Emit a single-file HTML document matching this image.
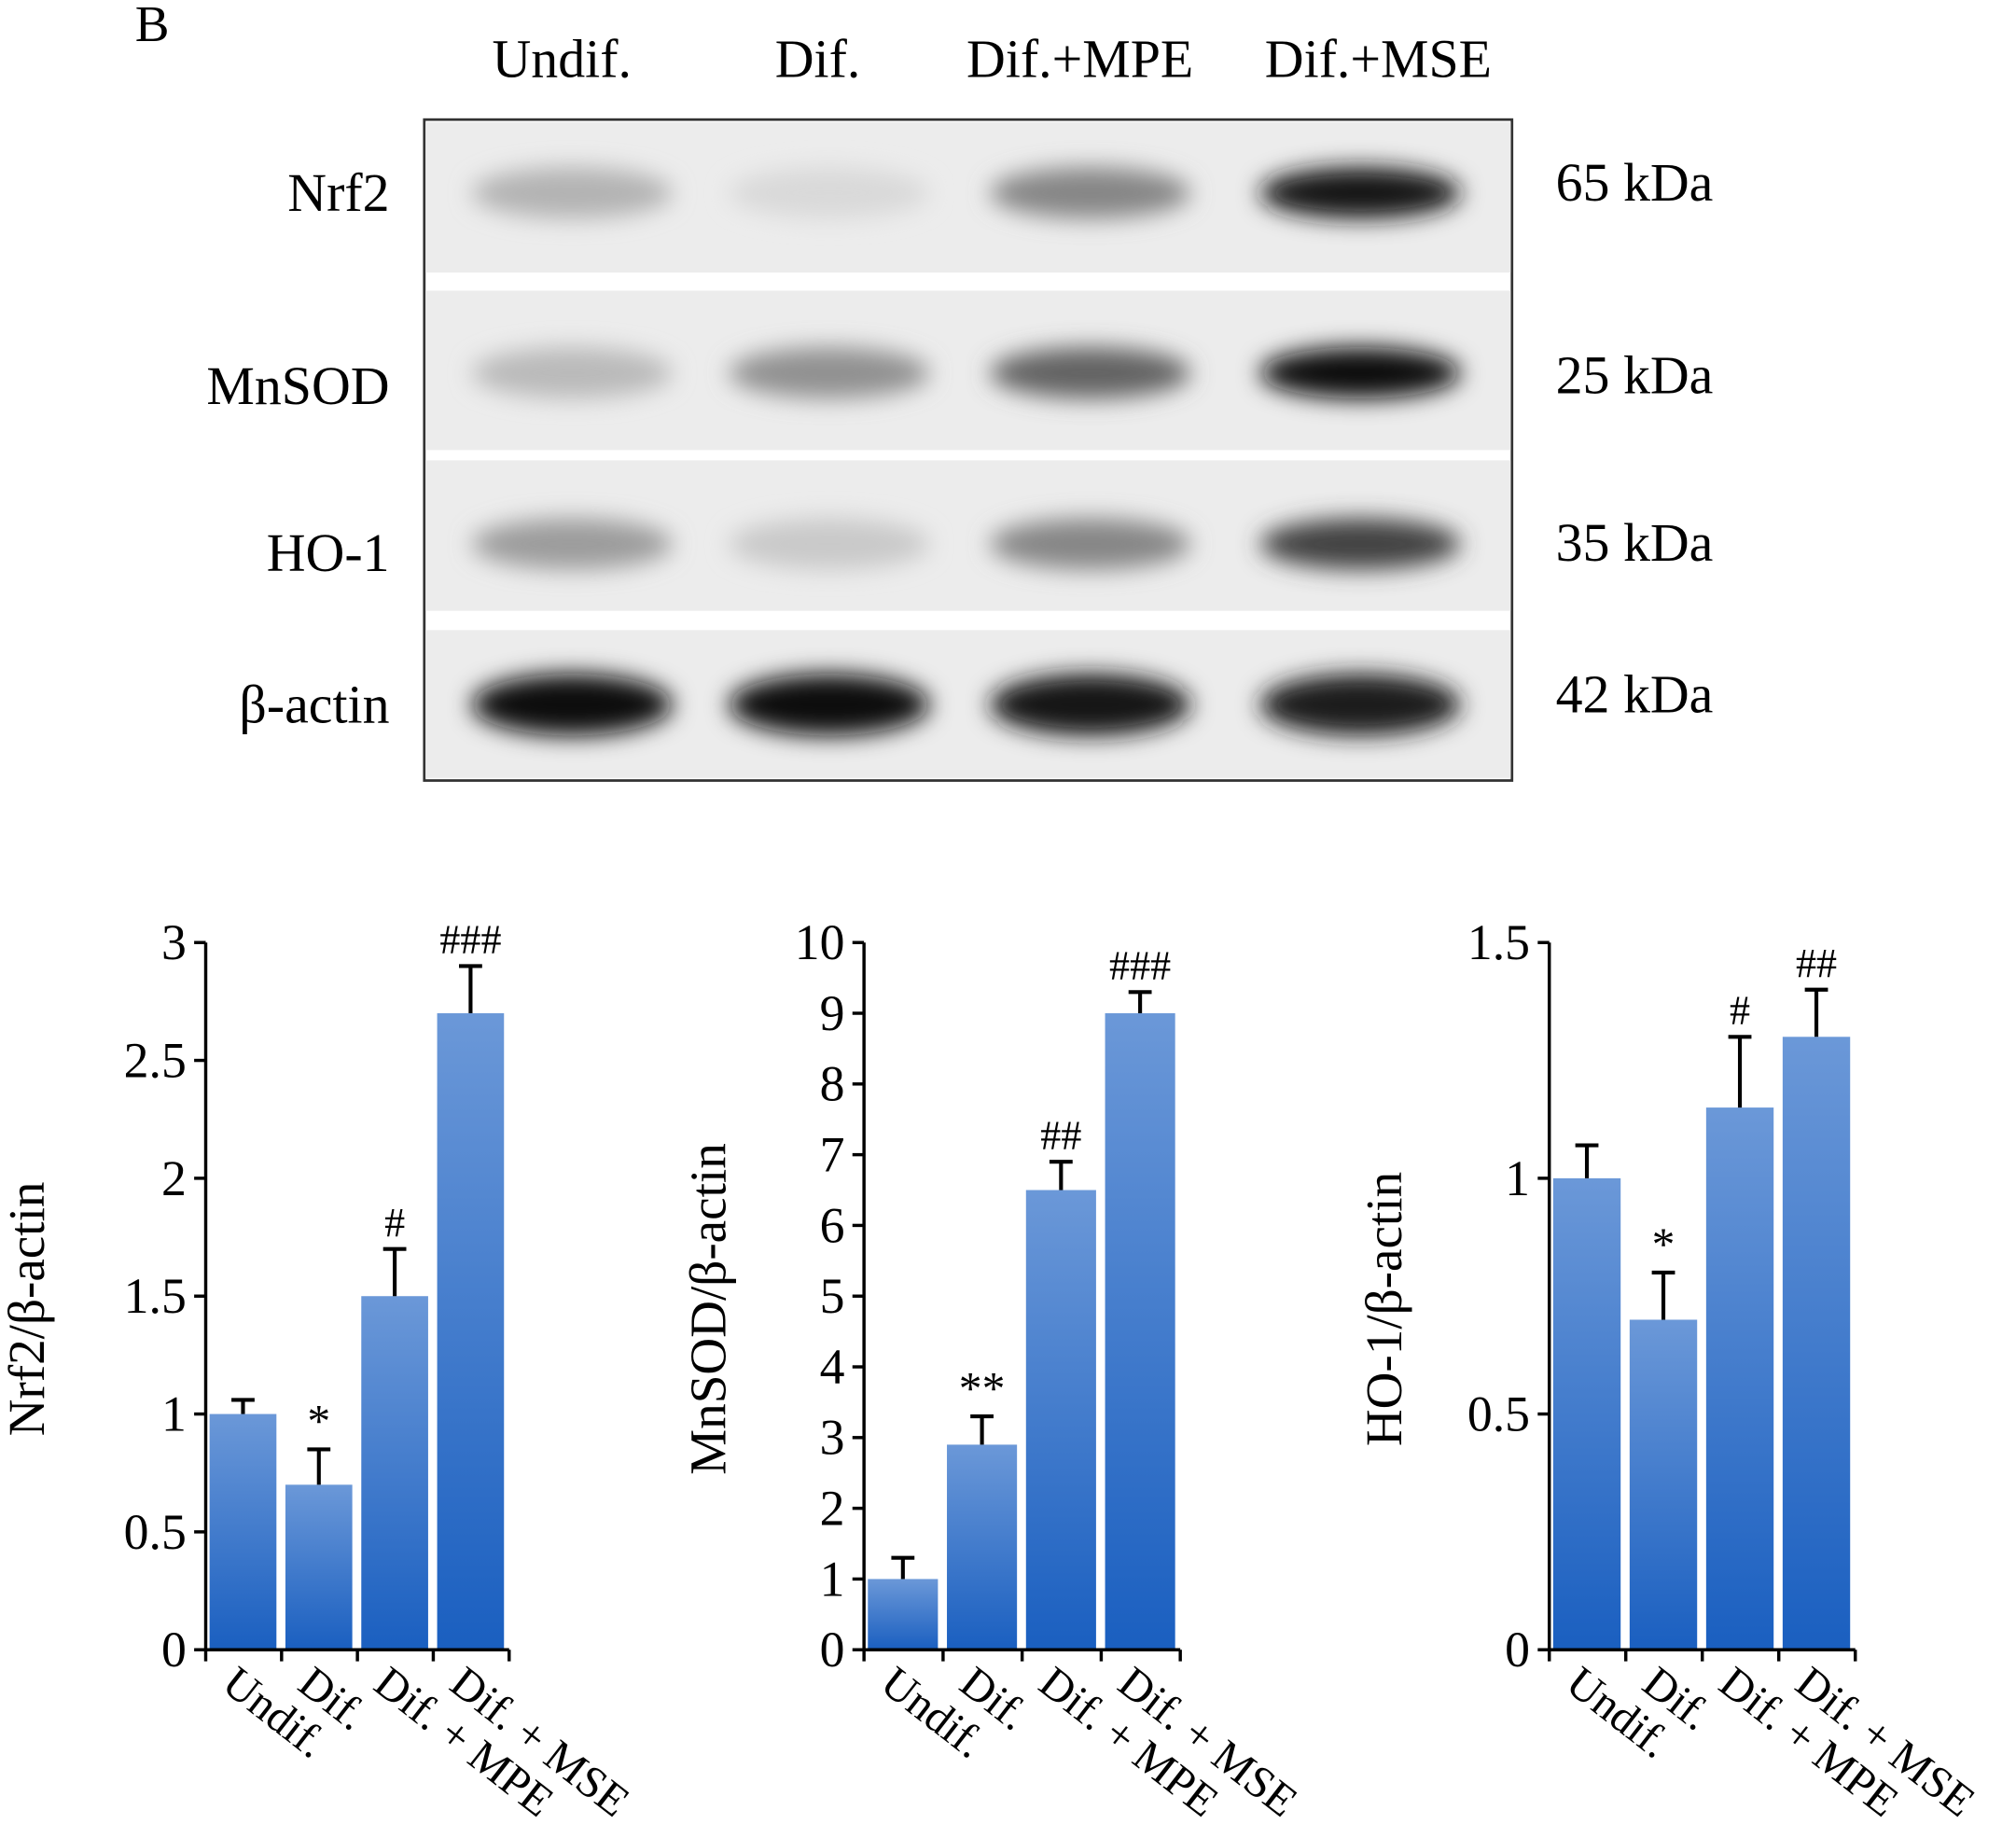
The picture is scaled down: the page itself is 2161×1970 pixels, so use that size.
<!DOCTYPE html>
<html><head><meta charset="utf-8"><style>
html,body{margin:0;padding:0;background:#fff;}
svg{display:block;font-family:"Liberation Serif",serif;}
</style></head><body>
<svg id="fig" width="2161" height="1970" viewBox="0 0 1568 1429.4" xmlns="http://www.w3.org/2000/svg">
<defs>
<linearGradient id="barg" x1="0" y1="0" x2="0" y2="1">
<stop offset="0" stop-color="#6b98d8"/><stop offset="1" stop-color="#1a5fc0"/>
</linearGradient>
<filter id="blur8" x="-50%" y="-100%" width="200%" height="300%"><feGaussianBlur stdDeviation="9"/></filter>
</defs>
<text x="105" y="32" font-size="40">B</text>
<g font-size="42" text-anchor="middle">
<text x="437" y="60">Undif.</text>
<text x="636" y="60">Dif.</text>
<text x="840" y="60">Dif.+MPE</text>
<text x="1072" y="60">Dif.+MSE</text>
</g>
<g id="blot"></g>
<g id="charts"></g>
</svg>
<script>
const NS="http://www.w3.org/2000/svg";
function mk(p,tag,attrs,txt){const e=document.createElementNS(NS,tag);for(const k in attrs)e.setAttribute(k,attrs[k]);if(txt!==undefined)e.textContent=txt;p.appendChild(e);return e;}

// ---- Blot data ----
const blotProteins=["Nrf2","MnSOD","HO-1","β-actin"];
const blotSizes=["65 kDa","25 kDa","35 kDa","42 kDa"];
const bandIntensity=[[0.25,0.08,0.45,0.95],[0.22,0.4,0.6,0.97],[0.35,0.15,0.45,0.75],[0.97,0.97,0.95,0.93]];
const blot=document.getElementById('blot');
const strips=[[95,212],[226,350],[358,475],[490,605]];
const lanes=[445,645,848,1058];
const box=mk(blot,'rect',{x:330,y:93,width:846,height:514,fill:'#fff',stroke:'#333','stroke-width':2});

strips.forEach((s,i)=>{
  const st=mk(blot,'rect',{x:331,y:s[0],width:844,height:s[1]-s[0],fill:'#ececec'});
  
  const cy=[150,290,423,548][i];
  lanes.forEach((lx,j)=>{
    const v=bandIntensity[i][j];const g=Math.round(235-225*v);
    const b=mk(blot,'ellipse',{cx:lx,cy:cy,rx:78,ry:i===3?24:20,fill:`rgb(${g},${g},${g})`,filter:'url(#blur8)'});
    
  });
  const ly=[150,300,430,548][i];
  const l=mk(blot,'text',{x:303,y:ly+14,'font-size':42,'text-anchor':'end'},blotProteins[i]);
  
  const r=mk(blot,'text',{x:1210,y:ly+6,'font-size':42},blotSizes[i]);
  
});

// ---- Chart data ----
const categories=["Undif.","Dif.","Dif. + MPE","Dif. + MSE"];
const nrf2Values=[1,0.7,1.5,2.7];
const nrf2Errors=[0.06,0.15,0.2,0.2];
const nrf2Marks=["","*","#","###"];
const nrf2Ticks=["0","0.5","1","1.5","2","2.5","3"];
const mnsodValues=[1,2.9,6.5,9];
const mnsodErrors=[0.3,0.4,0.4,0.3];
const mnsodMarks=["","**","##","###"];
const mnsodTicks=["0","1","2","3","4","5","6","7","8","9","10"];
const ho1Values=[1,0.7,1.15,1.3];
const ho1Errors=[0.07,0.1,0.15,0.1];
const ho1Marks=["","*","#","##"];
const ho1Ticks=["0","0.5","1","1.5"];

const charts=[
 {name:'nrf2',x0:160,slot:59,max:3,vals:nrf2Values,errs:nrf2Errors,marks:nrf2Marks,ticks:nrf2Ticks,title:"Nrf2/β-actin",tx:22},
 {name:'mnsod',x0:672,slot:61.5,max:10,vals:mnsodValues,errs:mnsodErrors,marks:mnsodMarks,ticks:mnsodTicks,title:"MnSOD/β-actin",tx:552},
 {name:'ho1',x0:1205,slot:59.5,max:1.5,vals:ho1Values,errs:ho1Errors,marks:ho1Marks,ticks:ho1Ticks,title:"HO-1/β-actin",tx:1078}
];
const yTop=733,yBot=1283;
const root=document.getElementById('charts');
charts.forEach(c=>{
  const g=mk(root,'g',{});
  
  const y=v=>yBot-(v/c.max)*(yBot-yTop);
  const xEnd=c.x0+c.slot*4;
  c.vals.forEach((v,i)=>{
    const bx=c.x0+3+i*c.slot, bw=c.slot-7, cx=bx+bw/2;
    const bar=mk(g,'rect',{x:bx,y:y(v),width:bw,height:yBot-y(v),fill:'url(#barg)'});
    
    const top=y(v+c.errs[i]);
    const e1=mk(g,'line',{x1:cx,x2:cx,y1:y(v),y2:top,stroke:'#000','stroke-width':3});
    
    const e2=mk(g,'line',{x1:cx-9,x2:cx+9,y1:top,y2:top,stroke:'#000','stroke-width':3});
    
    if(c.marks[i]){
      const m=mk(g,'text',{x:cx,y:top-10,'font-size':c.marks[i][0]==='*'?36:32,'text-anchor':'middle'},c.marks[i]);
      
    }
    const lx=bx+8, ly=yBot+30;
    const lab=mk(g,'text',{x:lx,y:ly,'font-size':35,transform:`rotate(38 ${lx} ${ly})`},categories[i]);
    
  });
  const ya=mk(g,'line',{x1:c.x0,x2:c.x0,y1:yTop,y2:yBot,stroke:'#000','stroke-width':2.5});
  
  const xa=mk(g,'line',{x1:c.x0,x2:xEnd,y1:yBot,y2:yBot,stroke:'#000','stroke-width':2.5});
  
  for(let i=0;i<=4;i++){
    const t=mk(g,'line',{x1:c.x0+i*c.slot,x2:c.x0+i*c.slot,y1:yBot,y2:yBot+9,stroke:'#000','stroke-width':2.5});
    
  }
  c.ticks.forEach(tl=>{
    const v=parseFloat(tl);
    const t=mk(g,'line',{x1:c.x0-9,x2:c.x0,y1:y(v),y2:y(v),stroke:'#000','stroke-width':2.5});
    
    const tt=mk(g,'text',{x:c.x0-15,y:y(v)+13,'font-size':39,'text-anchor':'end'},tl);
    
  });
  const ty=(yTop+yBot)/2+10;
  const title=mk(g,'text',{x:c.tx+12,y:ty,'font-size':40,'text-anchor':'middle',transform:`rotate(-90 ${c.tx+12} ${ty})`},c.title);
  
});
</script>
</body></html>
